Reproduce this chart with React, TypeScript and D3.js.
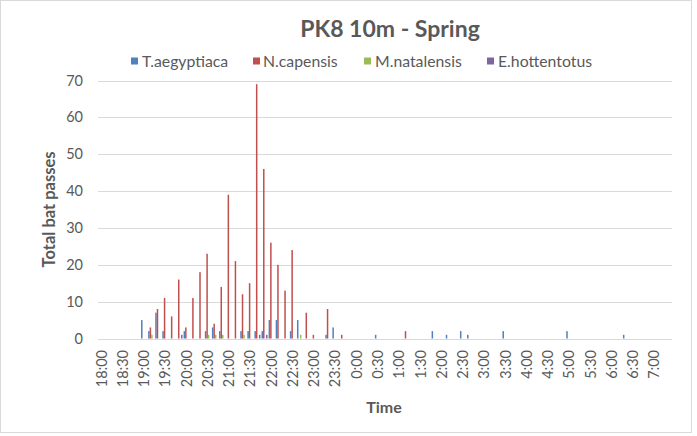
import React from "react";
import * as d3 from "d3";

const categories = [
  "18:00","18:10","18:20","18:30","18:40","18:50","19:00","19:10","19:20","19:30",
  "19:40","19:50","20:00","20:10","20:20","20:30","20:40","20:50","21:00","21:10",
  "21:20","21:30","21:40","21:50","22:00","22:10","22:20","22:30","22:40","22:50",
  "23:00","23:10","23:20","23:30","23:40","23:50","0:00","0:10","0:20","0:30",
  "0:40","0:50","1:00","1:10","1:20","1:30","1:40","1:50","2:00","2:10",
  "2:20","2:30","2:40","2:50","3:00","3:10","3:20","3:30","3:40","3:50",
  "4:00","4:10","4:20","4:30","4:40","4:50","5:00","5:10","5:20","5:30",
  "5:40","5:50","6:00","6:10","6:20","6:30","6:40","6:50","7:00","7:10",
  "7:20",
];

const tickLabels = [
  "18:00","18:30","19:00","19:30","20:00","20:30","21:00","21:30","22:00","22:30",
  "23:00","23:30","0:00","0:30","1:00","1:30","2:00","2:30","3:00","3:30",
  "4:00","4:30","5:00","5:30","6:00","6:30","7:00",
];

const tAegyptiaca = [
  0,0,0,0,0,0,5,2,7,2,
  0,0,2,0,0,2,3,2,0,0,
  2,2,2,2,5,5,0,2,5,0,
  0,0,1,3,0,0,0,0,0,1,
  0,0,0,0,0,0,0,2,0,1,
  0,2,1,0,0,0,0,2,0,0,
  0,0,0,0,0,0,2,0,0,0,
  0,0,0,0,1,0,0,0,0,0,
  0,
];
const nCapensis = [
  0,0,0,0,0,0,0,3,8,11,
  6,16,3,11,18,23,4,14,39,21,
  12,15,69,46,26,20,13,24,0,7,
  1,0,8,0,1,0,0,0,0,0,
  0,0,0,2,0,0,0,0,0,0,
  0,0,0,0,0,0,0,0,0,0,
  0,0,0,0,0,0,0,0,0,0,
  0,0,0,0,0,0,0,0,0,0,
  0,
];
const mNatalensis = [
  0,0,0,0,0,0,0,1,0,0,
  0,0,0,0,0,1,1,1,0,0,
  1,0,0,0,0,0,0,0,1,0,
  0,0,0,0,0,0,0,0,0,0,
  0,0,0,0,0,0,0,0,0,0,
  0,0,0,0,0,0,0,0,0,0,
  0,0,0,0,0,0,0,0,0,0,
  0,0,0,0,0,0,0,0,0,0,
  0,
];
const eHottentotus = [
  0,0,0,0,0,0,0,0,0,0,
  0,1,0,0,0,0,0,0,0,0,
  0,0,1,1,0,0,0,0,0,0,
  0,0,0,0,0,0,0,0,0,0,
  0,0,0,0,0,0,0,0,0,0,
  0,0,0,0,0,0,0,0,0,0,
  0,0,0,0,0,0,0,0,0,0,
  0,0,0,0,0,0,0,0,0,0,
  0,
];

const seriesNames = ["T.aegyptiaca", "N.capensis", "M.natalensis", "E.hottentotus"];
const seriesColors = ["#4F81BD", "#C0504D", "#9BBB59", "#8064A2"];
const seriesValues = [tAegyptiaca, nCapensis, mNatalensis, eHottentotus];
const yTicks = [0, 10, 20, 30, 40, 50, 60, 70];

const FONT = "Lato, 'Open Sans', sans-serif";
const TXT = "#595959";

export default function App() {
  const W = 697, H = 436;
  const left = 98, right = 672, top = 80.5, bottom = 338.5;

  const x0 = d3.scaleBand<string>().domain(categories).range([left, right]).padding(0);
  const x1 = d3.scaleBand<string>().domain(seriesNames).range([0, x0.bandwidth()]).paddingInner(0).paddingOuter(0.36);
  const y = d3.scaleLinear().domain([0, 70]).range([bottom, top]);

  const legendItems = [
    { x: 131, tx: 142 },
    { x: 253, tx: 263 },
    { x: 364, tx: 375 },
    { x: 487, tx: 498 },
  ];

  return (
    <svg width={W} height={H} style={{ position: "absolute", left: 0, top: 0, background: "#fff" }} fontFamily={FONT}>
      <rect x={0.5} y={0.5} width={691} height={432} fill="#fff" stroke="#d9d9d9" />
      <text x={390} y={37} textAnchor="middle" fontSize={23} fontWeight="bold" fill={TXT}>PK8 10m - Spring</text>

      {seriesNames.map((n, i) => (
        <g key={n}>
          <rect x={legendItems[i].x} y={57.5} width={7} height={7} fill={seriesColors[i]} />
          <text x={legendItems[i].tx} y={66.5} fontSize={15.8} fill={TXT}>{n}</text>
        </g>
      ))}

      {yTicks.map((t) => (
        <g key={t}>
          <line x1={left} x2={right} y1={Math.round(y(t)) + 0.5} y2={Math.round(y(t)) + 0.5} stroke="#d9d9d9" strokeWidth={1} />
          <text x={83} y={y(t)} dy="0.35em" textAnchor="end" fontSize={14.5} fill={TXT}>{t}</text>
        </g>
      ))}

      {categories.map((c, ci) => (
        <g key={c}>
          {seriesValues.map((vals, si) =>
            vals[ci] > 0 ? (
              <rect
                key={si}
                x={(x0(c) as number) + (x1(seriesNames[si]) as number)}
                y={y(vals[ci])}
                width={x1.bandwidth()}
                height={y(0) - y(vals[ci])}
                fill={seriesColors[si]}
              />
            ) : null
          )}
        </g>
      ))}

      {tickLabels.map((t) => {
        const cx = (x0(t) as number) + x0.bandwidth() / 2;
        return (
          <text key={t} transform={`translate(${cx},350) rotate(-90)`} dy="0.35em" textAnchor="end" fontSize={14.5} fill={TXT}>{t}</text>
        );
      })}

      <text transform={`translate(49,${(top + bottom) / 2}) rotate(-90)`} dy="0.35em" textAnchor="middle" fontSize={16.5} fontWeight="bold" fill={TXT}>Total bat passes</text>
      <text x={384} y={413} textAnchor="middle" fontSize={16} fontWeight="bold" fill={TXT}>Time</text>
    </svg>
  );
}
